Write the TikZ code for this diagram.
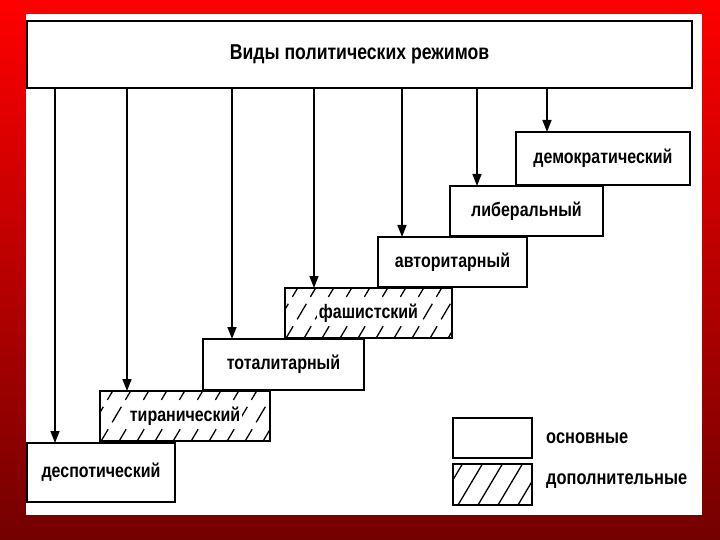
\documentclass[tikz,border=0pt]{standalone}
\usepackage{fontspec}
\setmainfont{Liberation Sans}[FakeStretch=0.82]
\usetikzlibrary{arrows.meta,calc}
\definecolor{topred}{RGB}{255,0,0}
\definecolor{botred}{RGB}{115,0,0}
\tikzset{
  box/.style={draw=black, line width=1.8pt, fill=white, inner sep=0pt, outer sep=0pt, font=\bfseries\fontsize{19.5}{22}\selectfont},
  boxtext/.style={font=\bfseries\fontsize{19.5}{22}\selectfont, fill=white, inner sep=1.5pt},
  arr/.style={line width=1.5pt, -{Triangle[length=12pt,width=9pt]}},
  hatch/.style={line width=1.3pt, dash pattern=on 18pt off 8pt, dash phase=2pt},
  lhatch/.style={line width=1.3pt},
  legtext/.style={anchor=west, inner sep=0pt, font=\bfseries\fontsize{20}{22}\selectfont}
}
\newcommand{\hatchbox}[1]{%
  \begin{scope}
    \clip (#1.north west) rectangle (#1.south east);
    \foreach \i in {-3,...,14} {
      \draw[hatch] ($(#1.south west)+(\i*18,2)$) -- ++(33,-56);
    }
  \end{scope}
  \draw[line width=1.8pt] (#1.north west) rectangle (#1.south east);
}
\begin{document}
\begin{tikzpicture}[x=1pt,y=-1pt]
\shade[top color=topred, bottom color=botred] (0,0) rectangle (720,540);
\useasboundingbox (0,0) rectangle (720,540);
\fill[white] (26,14) rectangle (702,515);

\node[box, minimum width=665pt, minimum height=67pt, font=\bfseries\fontsize{21.5}{24}\selectfont] (title) at (359.5,54.5) {Виды политических режимов};

\node[box, minimum width=174pt, minimum height=53pt] (dem) at (603,158.5) {демократический};
\node[box, minimum width=153pt, minimum height=50pt] (lib) at (526.5,211) {либеральный};
\node[box, minimum width=149pt, minimum height=50pt] (avt) at (452.5,262) {авторитарный};
\node[box, minimum width=167pt, minimum height=50pt] (fas) at (368.5,313) {};
\hatchbox{fas}
\node[boxtext] at (fas) {фашистский};
\node[box, minimum width=161pt, minimum height=51pt] (tot) at (283.5,364.5) {тоталитарный};
\node[box, minimum width=170pt, minimum height=50pt] (tir) at (185,416) {};
\hatchbox{tir}
\node[boxtext] at (tir) {тиранический};
\node[box, minimum width=148pt, minimum height=59pt] (des) at (101,472.5) {деспотический};

\draw[arr] (title.south -| 55,0) -- (des.north -| 55,0);
\draw[arr] (title.south -| 127,0) -- (tir.north -| 127,0);
\draw[arr] (title.south -| 232,0) -- (tot.north -| 232,0);
\draw[arr] (title.south -| 314,0) -- (fas.north -| 314,0);
\draw[arr] (title.south -| 402,0) -- (avt.north -| 402,0);
\draw[arr] (title.south -| 477,0) -- (lib.north -| 477,0);
\draw[arr] (title.south -| 547,0) -- (dem.north -| 547,0);

% legend
\node[box, minimum width=79pt, minimum height=40pt] (lmain) at (492.5,438) {};
\node[box, minimum width=79pt, minimum height=41pt] (ladd) at (492.5,484.5) {};
\begin{scope}
  \clip (ladd.north west) rectangle (ladd.south east);
  \foreach \i in {-2,...,4} {
    \draw[lhatch] ($(ladd.south west)+(\i*20+5,0)$) -- ++(25,-42);
  }
\end{scope}
\draw[line width=1.8pt] (ladd.north west) rectangle (ladd.south east);
\node[legtext] (tmain) at (546,438) {основные};
\node[legtext] (tadd) at (546,481) {дополнительные};
\end{tikzpicture}
\end{document}
